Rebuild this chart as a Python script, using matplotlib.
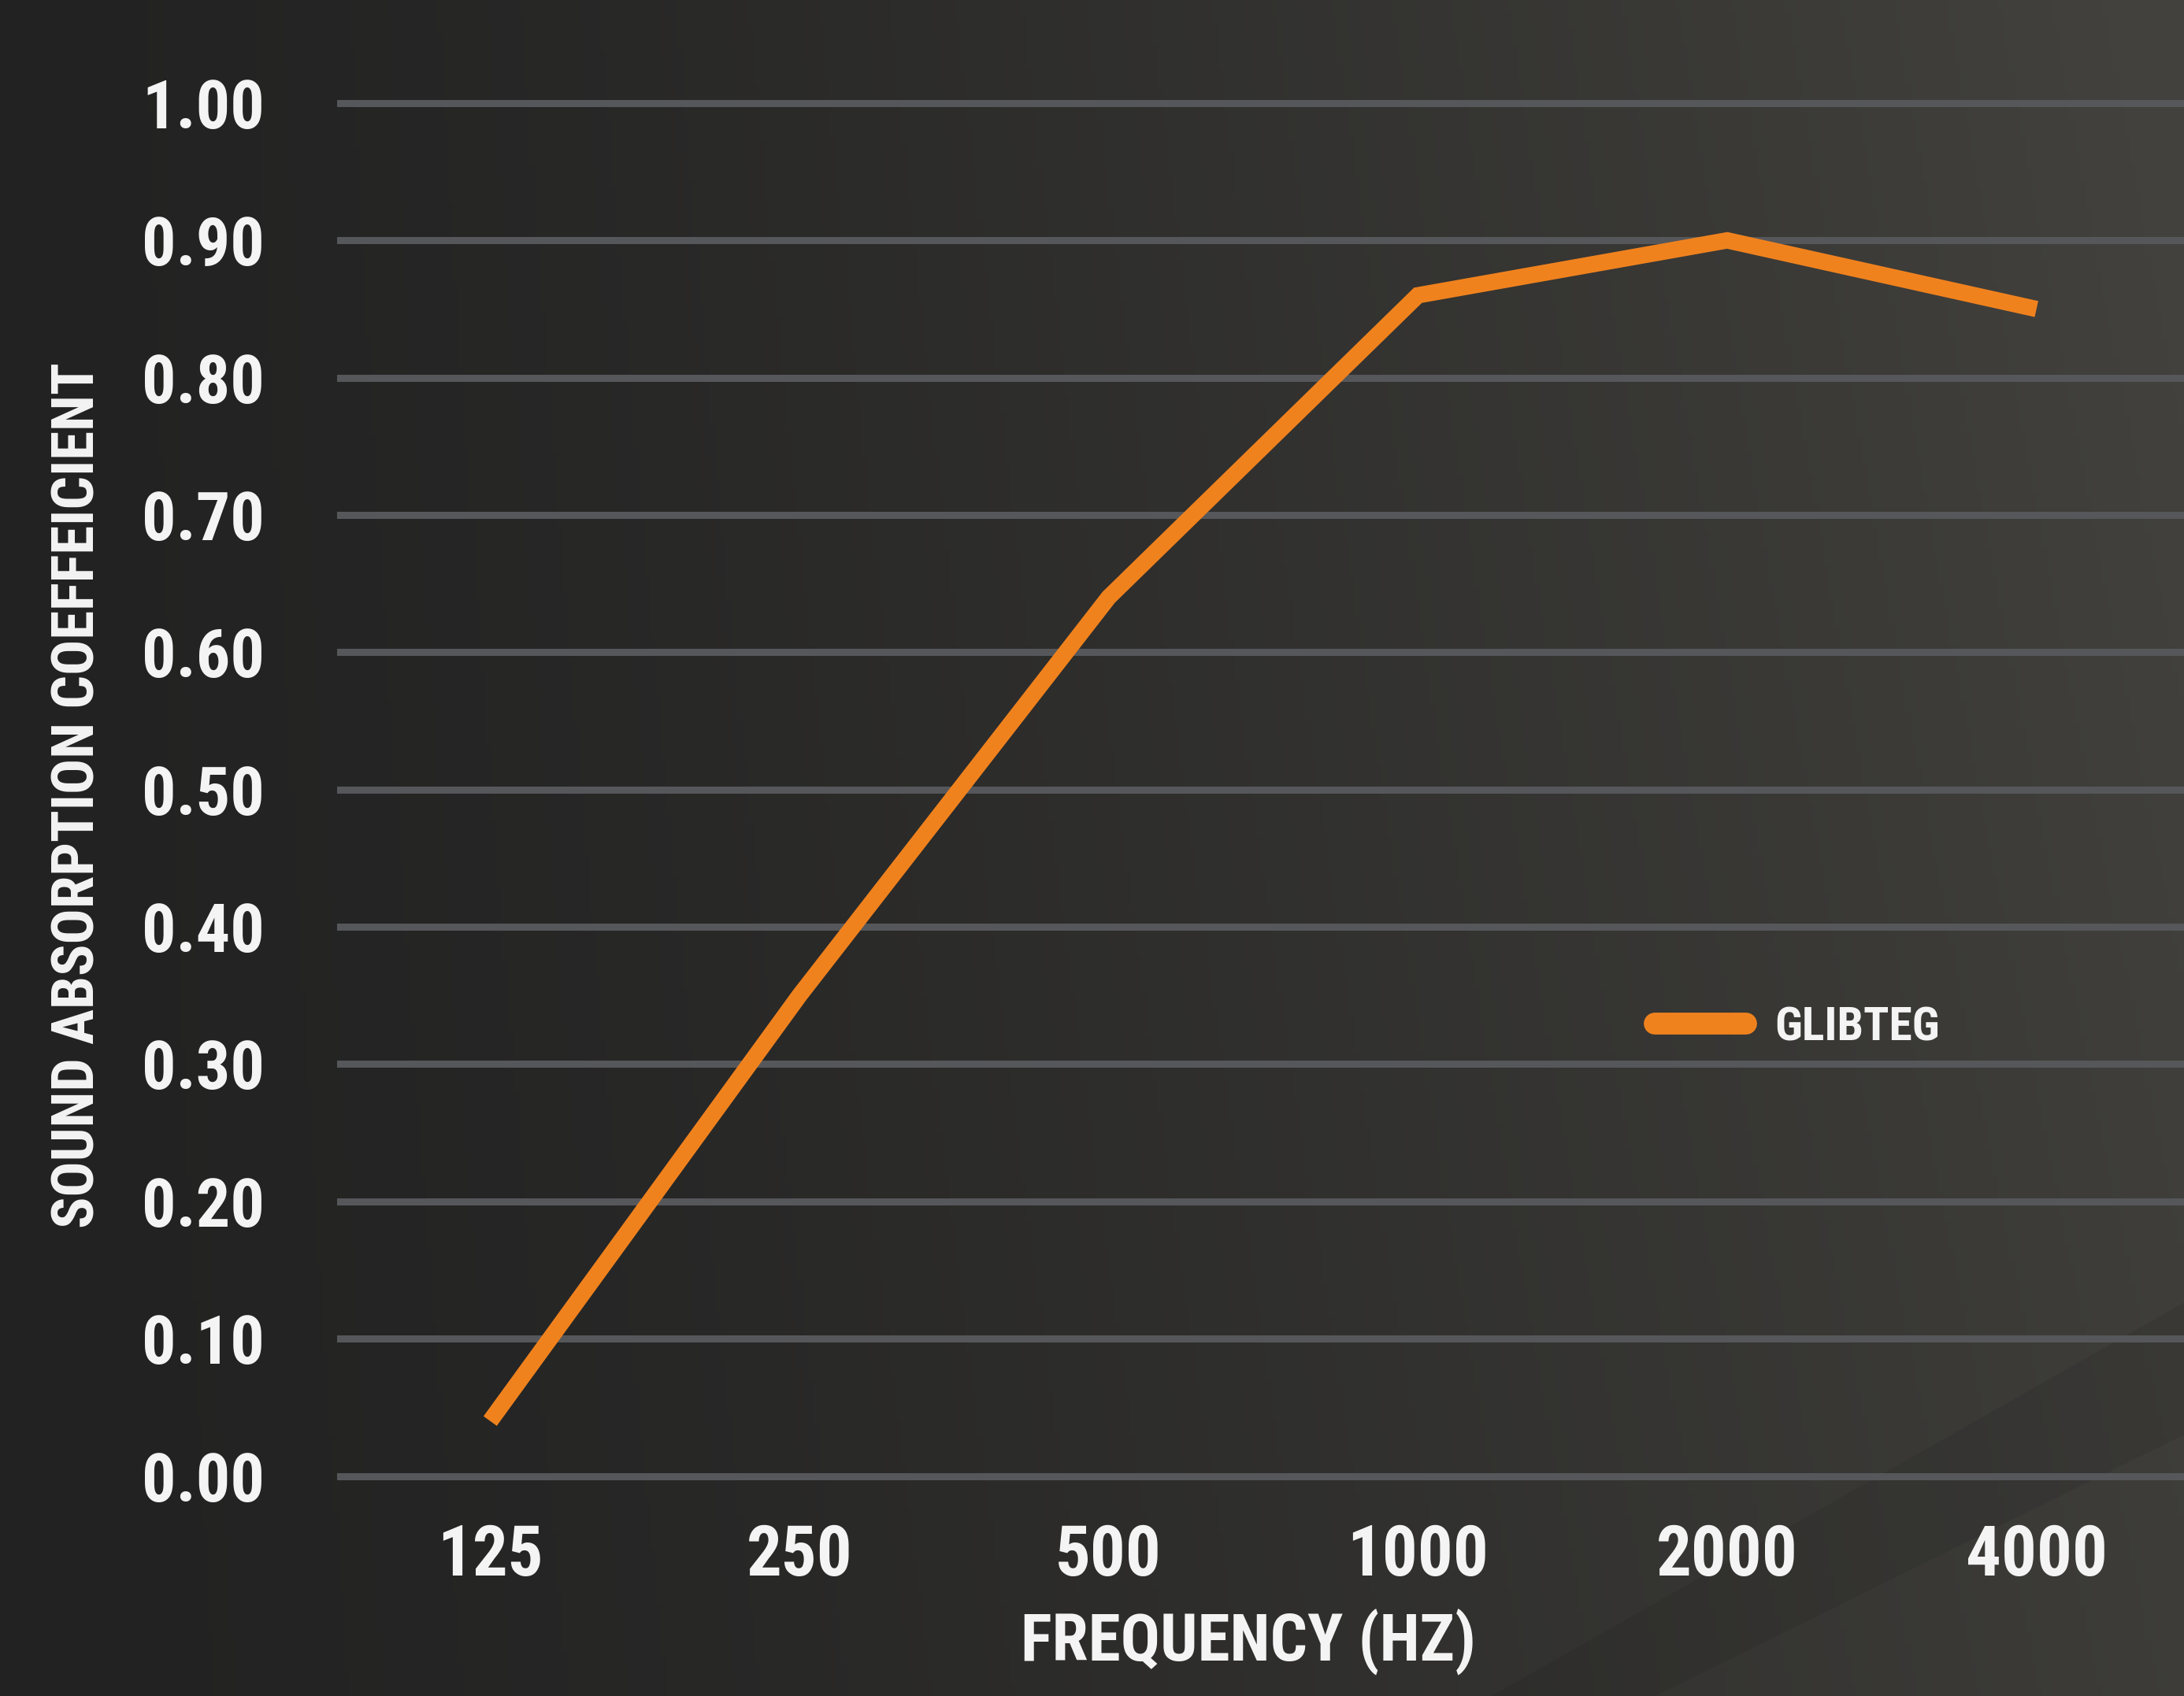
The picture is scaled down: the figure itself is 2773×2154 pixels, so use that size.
import numpy as np
import matplotlib
matplotlib.use("Agg")
import matplotlib.pyplot as plt
from matplotlib import font_manager
from matplotlib.font_manager import FontProperties

frequencies = ["125", "250", "500", "1000", "2000", "4000"]
absorption = [0.04, 0.35, 0.64, 0.86, 0.90, 0.85]
y_ticks = [0.0, 0.1, 0.2, 0.3, 0.4, 0.5, 0.6, 0.7, 0.8, 0.9, 1.0]
series_name = "GLIBTEG"

# find a bold condensed font if available
cond = None
pref = ["Liberation Sans Narrow", "Roboto Condensed", "Open Sans Condensed", "DejaVu Sans Condensed",
        "Noto Sans Condensed", "DejaVu Sans"]
cands = []
for f in font_manager.fontManager.ttflist:
    isc = ("Condensed" in f.name or "Narrow" in f.name or "ondensed" in f.fname or "Narrow" in f.fname
           or f.stretch in ("condensed", "semi-condensed", "extra-condensed"))
    w = f.weight if isinstance(f.weight, int) else (700 if "bold" in str(f.weight).lower() else 400)
    if isc and w >= 600 and "Oblique" not in f.fname and "Italic" not in f.fname:
        cands.append(f)
if cands:
    def key(f):
        for i, p in enumerate(pref):
            if f.name == p:
                return i
        return len(pref)
    cands.sort(key=key)
    cond = cands[0].fname

if cond:
    def FP(size):
        return FontProperties(fname=cond, size=size)
    k = 1.0
else:
    def FP(size):
        return FontProperties(family=["Liberation Sans", "DejaVu Sans"], weight="bold", size=size)
    k = 0.9

W, H = 2773, 2154
fig = plt.figure(figsize=(W / 100, H / 100), dpi=100)

# background gradient
bg = fig.add_axes([0, 0, 1, 1], zorder=-10)
gx = np.linspace(0, 1, 400)
gy = np.linspace(0, 1, 300)
X, Y = np.meshgrid(gx, gy)
t = np.clip(0.85 * X ** 1.4 + 0.2 * (1 - Y) * X, 0, 1)
c0 = np.array([0x22, 0x22, 0x22]) / 255
c1 = np.array([0x42, 0x41, 0x3d]) / 255
img = c0[None, None, :] * (1 - t[..., None]) + c1[None, None, :] * t[..., None]
bg.imshow(img, extent=[0, 1, 0, 1], aspect="auto", origin="upper")
bg.fill([0.683, 1.0, 1.0, 0.758], [0.0, 0.232, 0.154, 0.0], color="black", alpha=0.07, lw=0)
bg.set_xlim(0, 1)
bg.set_ylim(0, 1)
bg.axis("off")

# main axes
left = 242 / 1568
ax_b_px = 1071.8
ax_t_px = 62.2
bottom = 1 - ax_b_px / 1218
top = 1 - ax_t_px / 1218
ax = fig.add_axes([left, bottom, 1 - left, top - bottom])
ax.patch.set_alpha(0)
xs = np.arange(len(frequencies))
ax.set_xlim(-0.495, 5.477)
ax.set_ylim(-0.012, 1.012)
for yv in y_ticks:
    ax.axhline(yv, color="#56575b", lw=6.5, zorder=1)
ax.plot(xs, absorption, color="#f0821e", lw=15, zorder=3, solid_joinstyle="miter",
        solid_capstyle="butt", label=series_name)

ax.set_xticks(xs)
ax.set_xticklabels(frequencies, fontproperties=FP(64 * k), color="#f4f4f4")
ax.set_yticks(y_ticks)
ax.set_yticklabels([f"{v:.2f}" for v in y_ticks], fontproperties=FP(62 * k), color="#f4f4f4")
ax.tick_params(axis="both", length=0)
ax.tick_params(axis="y", pad=66)
ax.tick_params(axis="x", pad=28)
for s in ax.spines.values():
    s.set_visible(False)

ax.set_xlabel("FREQUENCY (HZ)", color="#f4f4f4", fontproperties=FP(60 * k))
ax.xaxis.set_label_coords((896 - 242) / 1326, (ax_b_px - 1179) / (ax_b_px - ax_t_px))
ax.xaxis.label.set_verticalalignment("center")
ax.set_ylabel("SOUND ABSORPTION COEFFEICIENT", color="#f4f4f4", fontproperties=FP(54 * k))
ax.yaxis.set_label_coords((56 - 242) / 1326, (ax_b_px - 571) / (ax_b_px - ax_t_px))
ax.yaxis.label.set_verticalalignment("center")

leg = ax.legend(loc="center left", bbox_to_anchor=(1188 / 1568, 1 - 738 / 1218),
                bbox_transform=fig.transFigure, frameon=False, prop=FP(43 * k),
                handlelength=1.95, handletextpad=0.6, borderpad=0, borderaxespad=0)
for txt in leg.get_texts():
    txt.set_color("#f4f4f4")
for h in leg.get_lines():
    h.set_linewidth(20)
    h.set_solid_capstyle("round")

fig.savefig("out.png", dpi=100)
